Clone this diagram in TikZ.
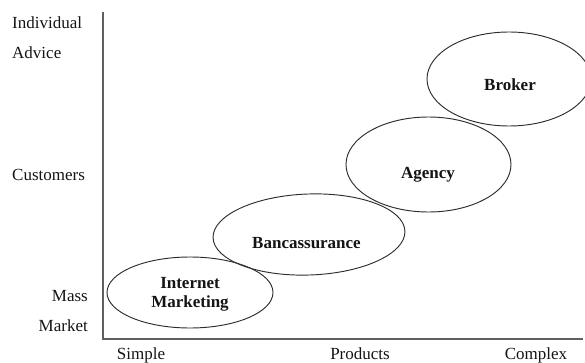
\documentclass[tikz,border=0pt]{standalone}
\usepackage{fontspec}
\setmainfont{Liberation Serif}
\usetikzlibrary{shapes.geometric}

\definecolor{axisGray}{RGB}{95,95,95}
\definecolor{ovalDark}{RGB}{45,45,45}
\definecolor{textDark}{RGB}{20,20,20}

\tikzset{
  oval/.style={ellipse, draw=ovalDark, line width=0.8pt, inner sep=0pt},
  channel/.style={font=\fontsize{14.5}{16.2}\selectfont\bfseries, align=center, inner sep=0pt},
}

\begin{document}
\begin{tikzpicture}[x=0.3mm, y=-0.3mm, font=\fontsize{14.5}{17}\selectfont, textDark]
\useasboundingbox (0,0) rectangle (585,363);

% axes
\coordinate (ytop) at (103,12);
\coordinate (origin) at (103,339);
\coordinate (xend) at (583,339);
\draw[axisGray, line width=1.2pt] (ytop) -- (origin) -- (xend);

\begin{scope}[inner sep=0pt]
\node (indiv) at (12,29) [anchor=base west] {Individual};
\node (advice) at (12,59) [anchor=base west] {Advice};
\node (cust) at (12,180) [anchor=base west] {Customers};
\node (mass) at (88,301) [anchor=base east] {Mass};
\node (market) at (88,331) [anchor=base east] {Market};
\end{scope}

\begin{scope}[inner sep=0pt]
\node (simple) at (141,359.5) [anchor=base] {Simple};
\node (products) at (360,359.5) [anchor=base] {Products};
\node (complex) at (536,359.5) [anchor=base] {Complex};
\end{scope}

% channels
\node[oval, minimum width=49.8mm, minimum height=21.3mm] (imkt) at (190,292.5) {};
\node[oval, minimum width=57.6mm, minimum height=24.3mm, rotate=2] (banc) at (309,234.5) {};
\node[oval, minimum width=49.5mm, minimum height=28.5mm] (agency) at (428.5,164.5) {};
\node[oval, minimum width=49.2mm, minimum height=28.2mm] (broker) at (509,79) {};

\node[channel] (imkttxt) at (190,294) {Internet\\Marketing};
\node[channel, anchor=base] (banctxt) at (306.5,248) {Bancassurance};
\node[channel, anchor=base] (agencytxt) at (428,178) {Agency};
\node[channel, anchor=base] (brokertxt) at (510,91) {Broker};
\end{tikzpicture}
\end{document}
